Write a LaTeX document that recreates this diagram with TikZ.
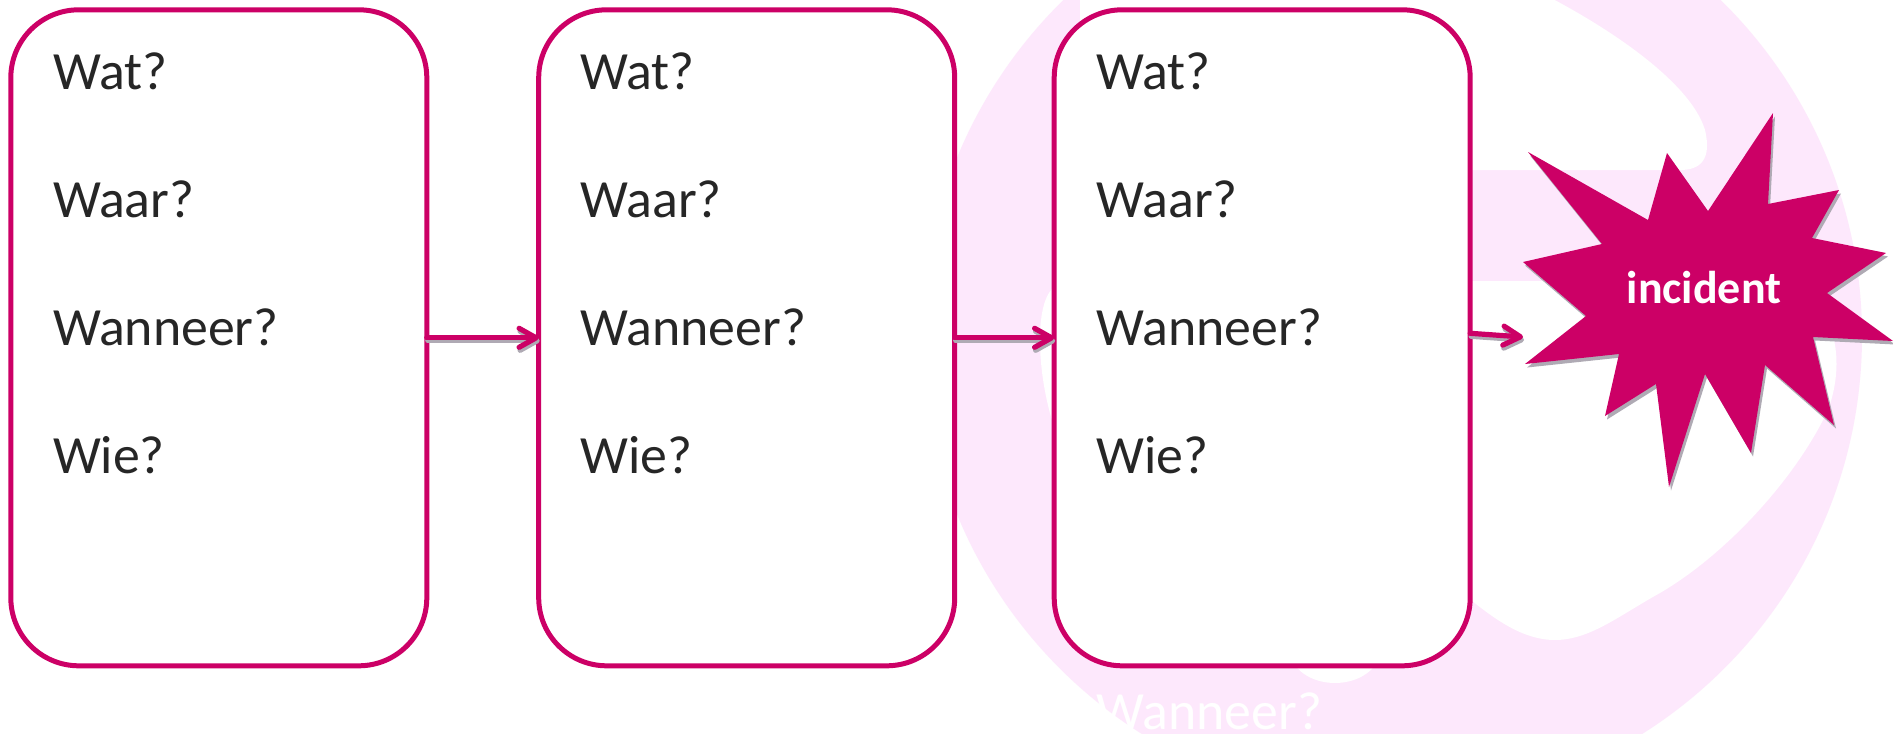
\documentclass[tikz,border=0pt]{standalone}
\usepackage{fontspec}
\setmainfont{Carlito}
\usetikzlibrary{arrows.meta}
\definecolor{mag}{RGB}{204,0,102}
\definecolor{txt}{RGB}{38,38,38}
\definecolor{bgpink}{RGB}{253,232,252}
\definecolor{shad}{RGB}{175,170,180}
\begin{document}
\begin{tikzpicture}[x=1pt,y=-1pt,
  box/.style={draw=mag, line width=5pt, fill=white, rounded corners=68pt,
    minimum width=416pt, minimum height=656pt, inner sep=0pt, outer sep=0pt},
  qtext/.style={anchor=base west, inner sep=0pt, text=txt,
    font=\fontsize{53.8}{60}\selectfont},
  arr/.style={draw=mag, line width=5.2pt, line cap=round,
    -{Straight Barb[length=17pt,width=19pt,round]}},
  arrshadow/.style={arr, draw=shad, transform canvas={shift={(1pt,-3pt)}}},
  bang/.style={fill=mag, preaction={fill=shad, transform canvas={shift={(2pt,-3.5pt)}}}},
  inclabel/.style={anchor=base, inner sep=0pt, text=white,
    font=\bfseries\fontsize{46}{50}\selectfont}
]
\useasboundingbox (0,0) rectangle (1893,734);
\fill[white] (0,0) rectangle (1893,734);

% faint background letter
\begin{scope}
  \clip (0,0) rectangle (1893,734);
  \clip (1392,336) circle (470);
  \fill[bgpink] (0,0) rectangle (1893,734);
  \fill[white] (1080,-20) -- (1515,-20)
     .. controls (1600,20) and (1690,80) .. (1705,130)
     .. controls (1712,160) and (1700,170) .. (1680,170) -- (1080,170) -- cycle;
  \fill[white] (1070,281) -- (1760,281)
     .. controls (1830,281) and (1850,350) .. (1828,410)
     .. controls (1795,480) and (1725,555) .. (1660,593)
     .. controls (1620,615) and (1590,640) .. (1555,640)
     .. controls (1520,640) and (1490,615) .. (1467,597)
     -- (1150,560) .. controls (1080,520) and (1040,420) .. (1040,340)
     .. controls (1040,300) and (1050,281) .. (1070,281) -- cycle;
  \fill[white] (1335,650) ellipse (45 and 33);
\end{scope}

% overflow text (white)
\node[qtext, text=white] (ghost) at (1096.2,729) {Wanneer?};

% boxes
\node[box] (b1) at (218.8,337.8) {};
\node[box] (b2) at (746.7,337.8) {};
\node[box] (b3) at (1262.2,337.8) {};

\foreach \b/\x in {1/52.8, 2/580.3, 3/1096.2} {
  \node[qtext] (t\b-a) at (\x,89) {Wat?};
  \node[qtext] (t\b-b) at (\x,217) {Waar?};
  \node[qtext] (t\b-c) at (\x,345) {Wanneer?};
  \node[qtext] (t\b-d) at (\x,473) {Wie?};
}

% star
\fill[bang] (1528,152) -- (1648,220) -- (1667,153) -- (1708,211) -- (1773,113)
  -- (1768,204) -- (1839,190) -- (1812,238) -- (1886,253) -- (1827,293)
  -- (1893,341) -- (1813,337) -- (1834,425) -- (1765,365) -- (1751,453)
  -- (1705,374) -- (1669,487) -- (1656,384) -- (1605,416) -- (1619,354)
  -- (1525,364) -- (1586,316) -- (1523,262) -- (1602,244) -- cycle;
\node[inclabel] (inc-label) at (1704,303) {incident};
\coordinate (inc) at (1523,337);

% arrows
\draw[arrshadow] (b1.east) -- (b2.west);
\draw[arrshadow] (b2.east) -- (b3.west);
\draw[arrshadow] ([yshift=4.5pt]b3.east) -- (inc);
\draw[arr] (b1.east) -- (b2.west);
\draw[arr] (b2.east) -- (b3.west);
\draw[arr] ([yshift=4.5pt]b3.east) -- (inc);
\end{tikzpicture}
\end{document}
